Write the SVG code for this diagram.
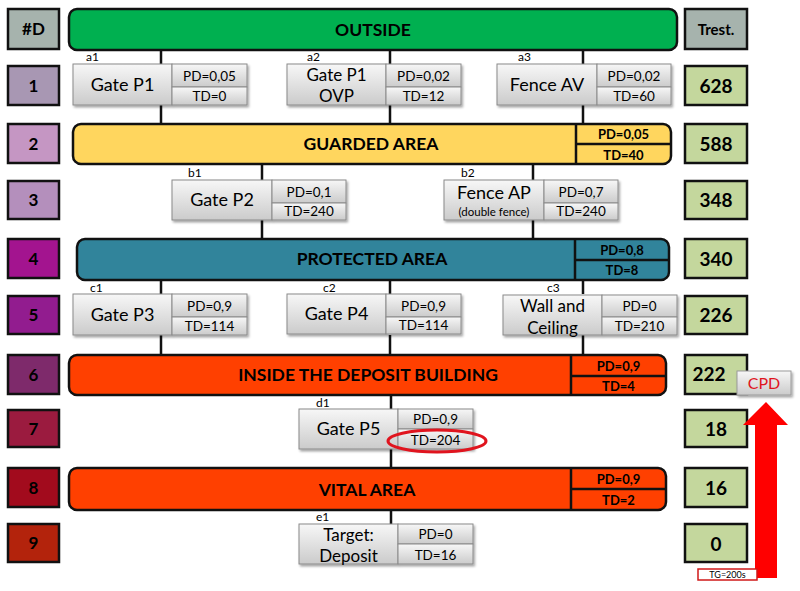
<svg xmlns="http://www.w3.org/2000/svg" width="800" height="591" viewBox="0 0 800 591">
<defs>
<linearGradient id="gg" x1="0" y1="0" x2="0" y2="1">
<stop offset="0" stop-color="#f7f7f7"/><stop offset="1" stop-color="#cbcbcb"/>
</linearGradient>
<filter id="sh" x="-10%" y="-10%" width="130%" height="140%">
<feDropShadow dx="1.5" dy="2" stdDeviation="1.2" flood-color="#000" flood-opacity="0.35"/>
</filter>
</defs>
<style>
text{font-family:Lato,"Open Sans","Liberation Sans",sans-serif;fill:#000}
.side{stroke:#111;stroke-width:2.5}
.num{font-weight:bold;font-size:19px;text-anchor:middle}
.dn{font-weight:bold;font-size:17px;text-anchor:middle}
.band{stroke:#111;stroke-width:2.5}
.bt{font-weight:bold;font-size:17.5px;text-anchor:middle}
.bs{font-weight:bold;font-size:13px;text-anchor:middle}
.gb{fill:url(#gg);stroke:#8a8a8a;stroke-width:1}
.gt{font-size:18px;text-anchor:middle}
.gt2{font-size:17px;text-anchor:middle}
.pt{font-size:13.5px;text-anchor:middle}
.lbl{font-size:12px}
.con{stroke:#111;stroke-width:2.5;fill:none}
.div{stroke:#111;stroke-width:2.5;fill:none}
</style>
<rect width="800" height="591" fill="#fff"/>

<g id="connectors">
<path class="con" d="M161 50V64M161 105V124M390 50V64M390 105V124M583 50V64M583 105V124"/>
<path class="con" d="M262 164V180M262 220V239M533 164V180M533 220V239"/>
<path class="con" d="M161 280V294M161 335V355M390 280V294M390 335V355M583 280V294M583 335V355"/>
<path class="con" d="M391 395V409M391 449V468M391 510V524"/>
</g>

<g id="depth-column">
<rect class="side" x="8" y="9" width="51" height="40" fill="#a6b3ad"/><text class="dn" x="33.5" y="35">#D</text>
<rect class="side" x="8" y="66" width="51" height="39" fill="#a897b3"/><text class="dn" x="33.5" y="92">1</text>
<rect class="side" x="8" y="124" width="51" height="39" fill="#c596c3"/><text class="dn" x="33.5" y="150">2</text>
<rect class="side" x="8" y="181" width="51" height="38" fill="#b48fbc"/><text class="dn" x="33.5" y="206">3</text>
<rect class="side" x="8" y="239" width="51" height="39" fill="#a3148f"/><text class="dn" x="33.5" y="265">4</text>
<rect class="side" x="8" y="296" width="51" height="38" fill="#921c8f"/><text class="dn" x="33.5" y="321">5</text>
<rect class="side" x="8" y="355" width="51" height="39" fill="#7e2a6b"/><text class="dn" x="33.5" y="381">6</text>
<rect class="side" x="8" y="410" width="51" height="37" fill="#9b1b3f"/><text class="dn" x="33.5" y="435">7</text>
<rect class="side" x="8" y="468" width="51" height="39" fill="#a20b1d"/><text class="dn" x="33.5" y="494">8</text>
<rect class="side" x="8" y="524" width="51" height="38" fill="#b3230c"/><text class="dn" x="33.5" y="549">9</text>
</g>

<g id="trest-column">
<rect class="side" x="685" y="9" width="62" height="40" fill="#a6b3ad"/><text class="dn" x="716" y="35" style="font-size:15px">Trest.</text>
<rect class="side" x="685" y="66" width="62" height="39" fill="#c4d79d"/><text class="num" x="716" y="93">628</text>
<rect class="side" x="685" y="124" width="62" height="39" fill="#c4d79d"/><text class="num" x="716" y="151">588</text>
<rect class="side" x="685" y="181" width="62" height="38" fill="#c4d79d"/><text class="num" x="716" y="207">348</text>
<rect class="side" x="685" y="239" width="62" height="39" fill="#c4d79d"/><text class="num" x="716" y="266">340</text>
<rect class="side" x="685" y="296" width="62" height="38" fill="#c4d79d"/><text class="num" x="716" y="322">226</text>
<rect class="side" x="685" y="355" width="62" height="39" fill="#c4d79d"/><text class="num" x="709" y="381">222</text>
<rect class="side" x="685" y="410" width="62" height="37" fill="#c4d79d"/><text class="num" x="716" y="436">18</text>
<rect class="side" x="685" y="468" width="62" height="39" fill="#c4d79d"/><text class="num" x="716" y="495">16</text>
<rect class="side" x="685" y="524" width="62" height="38" fill="#c4d79d"/><text class="num" x="716" y="551">0</text>
</g>

<g id="outside">
<rect class="band" x="69" y="9" width="608" height="41" rx="8" fill="#00b050"/>
<text class="bt" x="373" y="36">OUTSIDE</text>
</g>

<g id="guarded-area">
<rect class="band" x="73" y="124" width="598" height="40" rx="8" fill="#ffd65e"/>
<path class="div" d="M576 124V164M576 144H671"/>
<text class="bt" x="371" y="150">GUARDED AREA</text>
<text class="bs" x="623.5" y="139">PD=0,05</text>
<text class="bs" x="623.5" y="160">TD=40</text>
</g>

<g id="protected-area">
<rect class="band" x="77" y="239" width="592" height="41" rx="8" fill="#31849b"/>
<path class="div" d="M575 239V280M575 260H669"/>
<text class="bt" x="372" y="265">PROTECTED AREA</text>
<text class="bs" x="622" y="255">PD=0,8</text>
<text class="bs" x="622" y="275">TD=8</text>
</g>

<g id="inside-deposit">
<rect class="band" x="69" y="355" width="597" height="40" rx="8" fill="#ff4000"/>
<path class="div" d="M571 355V395M571 376H666"/>
<text class="bt" x="368" y="381">INSIDE THE DEPOSIT BUILDING</text>
<text class="bs" x="618.5" y="371">PD=0,9</text>
<text class="bs" x="618.5" y="391">TD=4</text>
</g>

<g id="vital-area">
<rect class="band" x="69" y="468" width="597" height="42" rx="8" fill="#ff4000"/>
<path class="div" d="M571 468V510M571 489H666"/>
<text class="bt" x="367" y="496">VITAL AREA</text>
<text class="bs" x="618.5" y="484">PD=0,9</text>
<text class="bs" x="618.5" y="505">TD=2</text>
</g>

<g id="a1">
<g filter="url(#sh)"><rect class="gb" x="73" y="64" width="99" height="41"/><rect class="gb" x="172" y="64" width="75" height="23"/><rect class="gb" x="172" y="87" width="75" height="18"/></g>
<text class="lbl" x="86" y="61">a1</text>
<text class="gt" x="122.5" y="91">Gate P1</text>
<text class="pt" x="209.5" y="81">PD=0,05</text><text class="pt" x="209.5" y="101">TD=0</text>
</g>
<g id="a2">
<g filter="url(#sh)"><rect class="gb" x="287" y="64" width="99" height="41"/><rect class="gb" x="386" y="64" width="75" height="23"/><rect class="gb" x="386" y="87" width="75" height="18"/></g>
<text class="lbl" x="307" y="61">a2</text>
<text class="gt2" x="336.5" y="81">Gate P1</text><text class="gt2" x="336.5" y="102">OVP</text>
<text class="pt" x="423.5" y="81">PD=0,02</text><text class="pt" x="423.5" y="101">TD=12</text>
</g>
<g id="a3">
<g filter="url(#sh)"><rect class="gb" x="497" y="64" width="100" height="41"/><rect class="gb" x="597" y="64" width="74" height="23"/><rect class="gb" x="597" y="87" width="74" height="18"/></g>
<text class="lbl" x="518" y="61">a3</text>
<text class="gt" x="547" y="91">Fence AV</text>
<text class="pt" x="634" y="81">PD=0,02</text><text class="pt" x="634" y="101">TD=60</text>
</g>

<g id="b1">
<g filter="url(#sh)"><rect class="gb" x="172" y="180" width="100" height="40"/><rect class="gb" x="272" y="180" width="74" height="23"/><rect class="gb" x="272" y="203" width="74" height="17"/></g>
<text class="lbl" x="188" y="177">b1</text>
<text class="gt" x="222" y="206">Gate P2</text>
<text class="pt" x="309" y="197">PD=0,1</text><text class="pt" x="309" y="216">TD=240</text>
</g>
<g id="b2">
<g filter="url(#sh)"><rect class="gb" x="444" y="180" width="100" height="40"/><rect class="gb" x="544" y="180" width="74" height="23"/><rect class="gb" x="544" y="203" width="74" height="17"/></g>
<text class="lbl" x="461" y="177">b2</text>
<text class="gt" x="494" y="199">Fence AP</text><text x="494" y="216" style="font-size:11.5px;text-anchor:middle">(double fence)</text>
<text class="pt" x="581" y="197">PD=0,7</text><text class="pt" x="581" y="216">TD=240</text>
</g>

<g id="c1">
<g filter="url(#sh)"><rect class="gb" x="73" y="294" width="99" height="41"/><rect class="gb" x="172" y="294" width="75" height="23"/><rect class="gb" x="172" y="317" width="75" height="18"/></g>
<text class="lbl" x="90" y="292">c1</text>
<text class="gt" x="122.5" y="321">Gate P3</text>
<text class="pt" x="209.5" y="311">PD=0,9</text><text class="pt" x="209.5" y="331">TD=114</text>
</g>
<g id="c2">
<g filter="url(#sh)"><rect class="gb" x="287" y="294" width="99" height="40"/><rect class="gb" x="386" y="294" width="75" height="23"/><rect class="gb" x="386" y="317" width="75" height="17"/></g>
<text class="lbl" x="323" y="292">c2</text>
<text class="gt" x="336.5" y="320">Gate P4</text>
<text class="pt" x="423.5" y="311">PD=0,9</text><text class="pt" x="423.5" y="330">TD=114</text>
</g>
<g id="c3">
<g filter="url(#sh)"><rect class="gb" x="503" y="295" width="99" height="40"/><rect class="gb" x="602" y="295" width="75" height="22"/><rect class="gb" x="602" y="317" width="75" height="18"/></g>
<text class="lbl" x="547" y="292">c3</text>
<text class="gt2" x="552.5" y="312">Wall and</text><text class="gt2" x="552.5" y="334">Ceiling</text>
<text class="pt" x="639.5" y="311">PD=0</text><text class="pt" x="639.5" y="331">TD=210</text>
</g>

<g id="d1">
<g filter="url(#sh)"><rect class="gb" x="299" y="409" width="99" height="40"/><rect class="gb" x="398" y="409" width="75" height="20"/><rect class="gb" x="398" y="429" width="75" height="20"/></g>
<text class="lbl" x="316" y="407">d1</text>
<text class="gt" x="348.5" y="435">Gate P5</text>
<text class="pt" x="435.5" y="424">PD=0,9</text><text class="pt" x="435.5" y="445">TD=204</text>
<ellipse cx="437" cy="441" rx="49" ry="11" fill="none" stroke="#e0141e" stroke-width="3"/>
</g>

<g id="e1">
<g filter="url(#sh)"><rect class="gb" x="299" y="524" width="99" height="40"/><rect class="gb" x="398" y="524" width="75" height="20"/><rect class="gb" x="398" y="544" width="75" height="20"/></g>
<text class="lbl" x="316" y="521">e1</text>
<text class="gt2" x="348.5" y="541">Target:</text><text class="gt2" x="348.5" y="562">Deposit</text>
<text class="pt" x="435.5" y="539">PD=0</text><text class="pt" x="435.5" y="560">TD=16</text>
</g>

<g id="cpd-arrow">
<path d="M755 578V425H743L766 402L788 425H777V578Z" fill="#ff0000"/>
<g filter="url(#sh)"><rect x="737" y="371" width="54" height="24" fill="url(#gg)" stroke="#9a9a9a" stroke-width="1"/></g>
<text x="764" y="389" style="font-size:16px;text-anchor:middle;fill:#e0141e">CPD</text>
</g>

<g id="tg">
<rect x="698" y="569" width="59" height="11" fill="#fff" stroke="#d01818" stroke-width="1.5"/>
<text x="727.5" y="578" style="font-size:9px;text-anchor:middle">TG=200s</text>
</g>
</svg>
